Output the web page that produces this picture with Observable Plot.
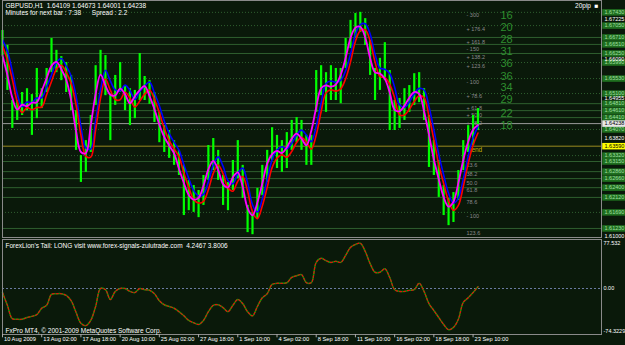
<!DOCTYPE html>
<html><head><meta charset="utf-8">
<script src="https://cdn.jsdelivr.net/npm/d3@7"></script>
<script src="https://cdn.jsdelivr.net/npm/@observablehq/plot@0.6"></script>
<style>
html,body{margin:0;padding:0;background:#0a190a;}
#c{width:625px;height:345px;overflow:hidden}
#c svg{display:block}
</style></head><body><div id="c"></div>
<script>
// ---- data ----
const highs = [1.6691,1.6648,1.6490,1.6490,1.6513,1.6524,1.6507,1.6582,1.6524,1.6582,
1.6668,1.6634,1.6616,1.6599,1.6562,1.6461,1.6332,1.6375,1.6447,1.6590,
1.6634,1.6619,1.6504,1.6562,1.6599,1.6533,1.6524,1.6519,1.6625,1.6559,
1.6547,1.6513,1.6456,1.6418,1.6404,1.6375,1.6347,1.6304,1.6261,1.6246,
1.6232,1.6275,1.6361,1.6381,1.6347,1.6275,1.6255,1.6318,1.6375,1.6304,
1.6189,1.6169,1.6238,1.6304,1.6347,1.6412,1.6390,1.6375,1.6398,1.6433,
1.6441,1.6433,1.6390,1.6390,1.6576,1.6590,1.6570,1.6590,1.6582,1.6582,
1.6668,1.6720,1.6740,1.6743,1.6725,1.6662,1.6582,1.6611,1.6656,1.6576,
1.6490,1.6496,1.6524,1.6533,1.6567,1.6570,1.6524,1.6447,1.6375,1.6318,
1.6246,1.6209,1.6226,1.6289,1.6375,1.6418,1.6447,1.6467];
const lows = [1.6619,1.6519,1.6410,1.6433,1.6447,1.6461,1.6390,1.6438,1.6467,1.6513,
1.6570,1.6570,1.6547,1.6513,1.6461,1.6347,1.6255,1.6284,1.6341,1.6476,
1.6562,1.6504,1.6375,1.6476,1.6513,1.6461,1.6418,1.6438,1.6490,1.6490,
1.6479,1.6427,1.6369,1.6341,1.6324,1.6304,1.6275,1.6160,1.6174,1.6169,
1.6154,1.6189,1.6261,1.6289,1.6261,1.6189,1.6174,1.6232,1.6266,1.6209,
1.6111,1.6105,1.6151,1.6217,1.6255,1.6318,1.6295,1.6284,1.6295,1.6347,
1.6369,1.6347,1.6304,1.6304,1.6456,1.6504,1.6456,1.6490,1.6490,1.6481,
1.6582,1.6639,1.6668,1.6685,1.6648,1.6562,1.6490,1.6519,1.6547,1.6404,
1.6404,1.6410,1.6433,1.6456,1.6476,1.6484,1.6433,1.6298,1.6275,1.6212,
1.6160,1.6131,1.6140,1.6203,1.6289,1.6341,1.6361,1.6404];
const osc = [-7,-29,-52,-53,-53,-50,-48,-45,-34,-29,
-10,-9,-9,-12,-21,-41,-60,-64,-55,-31,
0,-2,-19,-5,0,0,-5,-7,0,-2,
-3,-9,-21,-28,-31,-34,-40,-47,-55,-59,
-62,-55,-40,-29,-28,-33,-40,-29,-19,-26,
-40,-47,-31,-16,-9,7,9,9,10,19,
22,24,10,10,45,52,48,45,47,45,
57,71,76,78,64,43,28,28,34,19,
-2,-5,-5,-3,-2,9,-5,-26,-38,-50,
-62,-71,-67,-53,-24,-16,-7,3];

const solidLevels = [1.6671,1.6651,1.6625,1.6481,1.6461,1.6441,1.6315,1.6286,1.6266,1.6240,1.6212,1.6123];
const dottedLevels = [1.6743,1.6705,1.6599,1.6553,1.6510,1.6407,1.6332,1.6169];
const bidPrice = 1.64238;
const trendPrice = 1.63590;
const axisPrices = [1.67225,1.66090,1.64955,1.63820,1.61000];

const fibPrices = [1.6734,1.6694,1.6656,1.6636,1.6613,1.6588,1.6542,1.6501,1.6467,1.6447,1.6424,1.6304,1.6278,1.6252,1.6232,1.6197,1.6157,1.6108];
const fibTexts = ["- 300","+ 176.4","+ 161.8","- 150","+ 138.2","+ 123.6","- 100","+ 78.6","+ 61.8","+ 50.0","+ 38.2","23.6","38.2","50.0","61.8","78.6","- 100","123.6"];

const countPrices = [1.6734,1.6700,1.6665,1.6631,1.6596,1.6559,1.6527,1.6493,1.6453,1.6418];
const countTexts = ["16","20","28","31","36","36","34","29","22","18"];

const tickBars = [0,8,16,24,32,40,48,56,64,72,80,88,96];
const timeLabels = ["10 Aug 2009","13 Aug 02:00","17 Aug 18:00","20 Aug 10:00","25 Aug 02:00","27 Aug 18:00","1 Sep 10:00","4 Sep 02:00","8 Sep 18:00","11 Sep 10:00","16 Sep 02:00","18 Sep 18:00","23 Sep 10:00"];
const oscLabels = [77.532, 0, -74.3229];

// ---- build ----
const BG = "#0a190a";
const FONT = "Liberation Sans, Arial, sans-serif";
const bars = highs.map((h,i)=>({i, high:h, low:lows[i], mid:(h+lows[i])/2}));
const XD = [0,122.2];
const allLevels = solidLevels.concat(dottedLevels);

const main = Plot.plot({
  width:625, height:238, marginLeft:2, marginRight:24, marginTop:0, marginBottom:1,
  style:{background:BG, fontFamily:FONT, fontSize:"6.5px", color:"#fff"},
  x:{domain:XD, axis:null},
  y:{domain:[1.6097,1.6777], axis:null},
  marks:[
    Plot.ruleY(solidLevels,{y:d=>d, stroke:"#2f5f2f", strokeWidth:1}),
    Plot.ruleY(dottedLevels,{y:d=>d, stroke:"#2f5f2f", strokeWidth:1, strokeDasharray:"1,2"}),
    Plot.ruleY([bidPrice],{y:d=>d, stroke:"#9a9a9a"}),
    Plot.ruleY([trendPrice],{y:d=>d, stroke:"#9a8a20"}),
    Plot.text(fibPrices,{y:d=>d, text:(d,i)=>fibTexts[i], frameAnchor:"right", dx:-135, textAnchor:"start", fill:"#8a8a8a", fontSize:5.5}),
    Plot.text(countPrices,{y:d=>d, text:(d,i)=>countTexts[i], frameAnchor:"right", dx:-101, textAnchor:"start", fill:"#2e8e2e", fontSize:11}),
    Plot.text([trendPrice],{y:d=>d, text:()=>"Trend", frameAnchor:"right", dx:-136, dy:4, textAnchor:"start", fill:"#c8b400", fontSize:6.5}),
    Plot.ruleX(bars,{x:"i", y1:"low", y2:"high", stroke:"#00ff00", strokeWidth:2.2}),
    Plot.lineY(bars, Plot.windowY({k:3, anchor:"end"},{x:"i", y:d=>(d.high+3*d.mid)/4, stroke:"#0000ff", strokeWidth:1.6, curve:"catmull-rom"})),
    Plot.lineY(bars, Plot.windowY({k:3, anchor:"end"},{x:"i", y:d=>(d.low+3*d.mid)/4, stroke:"#ff0000", strokeWidth:1.6, curve:"catmull-rom"})),
    Plot.lineY(bars, Plot.windowY({k:3, anchor:"middle"},{x:"i", y:"mid", stroke:"#ff00ff", strokeWidth:1.8, curve:"catmull-rom"})),
    Plot.frame({stroke:"#8a8a8a"}),
    // right price scale
    Plot.ruleY(allLevels,{y:d=>d, x1:122.45, x2:128, stroke:"#1f6f1f", strokeWidth:6.5}),
    Plot.text(allLevels,{y:d=>d, text:d=>d.toFixed(5), frameAnchor:"right", dx:3, textAnchor:"start", fill:"#9fdf9f", fontSize:5.5}),
    Plot.text(axisPrices,{y:d=>d, text:d=>d.toFixed(5), frameAnchor:"right", dx:3, textAnchor:"start", fill:"#ffffff", fontSize:5.5}),
    Plot.ruleY([bidPrice],{y:d=>d, x1:122.45, x2:128, stroke:"#e8e8e8", strokeWidth:6.5}),
    Plot.text([bidPrice],{y:d=>d, text:d=>d.toFixed(5), frameAnchor:"right", dx:3, textAnchor:"start", fill:"#000", fontSize:5.5}),
    Plot.ruleY([trendPrice],{y:d=>d, x1:122.45, x2:128, stroke:"#ffff00", strokeWidth:6.5}),
    Plot.text([trendPrice],{y:d=>d, text:d=>d.toFixed(5), frameAnchor:"right", dx:3, textAnchor:"start", fill:"#000", fontSize:5.5}),
    // header
    Plot.text(["GBPUSD,H1  1.64109 1.64673 1.64001 1.64238"],{frameAnchor:"top-left", dx:3, dy:3, textAnchor:"start", lineAnchor:"top", fill:"#fff", fontSize:6.5}),
    Plot.text(["Minutes for next bar : 7:38      Spread : 2.2"],{frameAnchor:"top-left", dx:3, dy:10, textAnchor:"start", lineAnchor:"top", fill:"#fff", fontSize:6.5}),
    Plot.text(["20pip  \u25A0"],{frameAnchor:"top-right", dx:-3, dy:3, textAnchor:"end", lineAnchor:"top", fill:"#fff", fontSize:6.5})
  ]
});

const ind = Plot.plot({
  width:625, height:107, marginLeft:2, marginRight:24, marginTop:1, marginBottom:11,
  style:{background:BG, fontFamily:FONT, fontSize:"6.5px", color:"#fff"},
  x:{domain:XD, axis:null},
  y:{domain:[-79.3,84.5], axis:null},
  marks:[
    Plot.ruleY([0],{stroke:"#6a7aa0", strokeDasharray:"2,2"}),
    Plot.lineY(osc,{x:(d,i)=>i, y:d=>d, stroke:"#00a000", strokeWidth:1.5, curve:"catmull-rom"}),
    Plot.lineY(osc,{x:(d,i)=>i, y:d=>d, stroke:"#e01010", strokeWidth:1.2, strokeDasharray:"2,2", curve:"catmull-rom"}),
    Plot.frame({stroke:"#8a8a8a"}),
    Plot.text(["ForexLion's Tail: LONG visit www.forex-signals-zulutrade.com  4.2467 3.8006"],{frameAnchor:"top-left", dx:3, dy:4, textAnchor:"start", lineAnchor:"top", fill:"#fff", fontSize:6.5}),
    Plot.text(["FxPro MT4, \u00A9 2001-2009 MetaQuotes Software Corp."],{frameAnchor:"bottom-left", dx:3, dy:-2, textAnchor:"start", lineAnchor:"bottom", fill:"#fff", fontSize:6.5}),
    Plot.text(oscLabels,{y:d=>d, text:d=>d===0?"0.00":String(d), frameAnchor:"right", dx:2, textAnchor:"start", fill:"#fff", fontSize:5.5}),
    Plot.ruleX(tickBars,{x:d=>d, y1:-79.3, y2:-85, stroke:"#aaa"}),
    Plot.text(tickBars,{x:d=>d, text:(d,i)=>timeLabels[i], frameAnchor:"bottom", dx:1.5, dy:6.5, textAnchor:"start", fill:"#fff", fontSize:5.7})
  ]
});

document.getElementById("c").append(main, ind);
</script>
</body></html>
